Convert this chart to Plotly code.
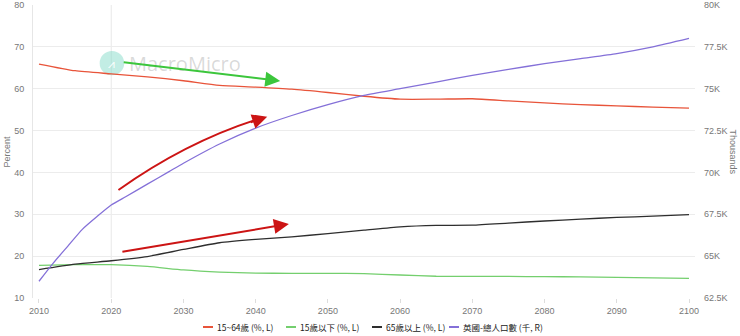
import plotly.graph_objects as go

years = [2010, 2015, 2020, 2025, 2030, 2035, 2040, 2045, 2050, 2055,
         2060, 2065, 2070, 2075, 2080, 2085, 2090, 2095, 2100]
age_15_64 = [65.9, 64.3, 63.55, 62.85, 61.9, 60.8, 60.4, 59.9, 59.1, 58.2,
             57.5, 57.5, 57.6, 57.1, 56.6, 56.2, 55.9, 55.6, 55.35]
age_under_15 = [17.8, 17.95, 17.95, 17.55, 16.7, 16.2, 15.95, 15.9, 15.9, 15.8,
                15.5, 15.2, 15.15, 15.15, 15.1, 15.05, 14.95, 14.8, 14.7]
age_65_plus = [16.8, 18.1, 18.9, 19.9, 21.6, 23.2, 24.0, 24.6, 25.4, 26.2,
               27.0, 27.35, 27.4, 27.9, 28.4, 28.85, 29.25, 29.55, 29.9]

pop_years = [2010, 2012, 2014, 2016, 2018, 2020, 2022, 2025, 2028, 2030, 2035, 2040,
             2045, 2050, 2055, 2060, 2065, 2070, 2075, 2080, 2085, 2090, 2095, 2100]
population_k = [63.5, 64.6, 65.6, 66.6, 67.35, 68.05, 68.55, 69.3, 70.05, 70.55, 71.7, 72.65,
                73.4, 74.05, 74.6, 75.0, 75.4, 75.8, 76.15, 76.5, 76.8, 77.1, 77.5, 78.0]

names = ["15~64歲 (%, L)", "15歲以下 (%, L)", "65歲以上 (%, L)", "英國-總人口數 (千, R)"]
colors = ["#e8543a", "#74cf6e", "#2e2e2e", "#8470d8"]

left_ticks = [10, 20, 30, 40, 50, 60, 70, 80]
right_ticks = [62.5, 65, 67.5, 70, 72.5, 75, 77.5, 80]
right_labels = ["62.5K", "65K", "67.5K", "70K", "72.5K", "75K", "77.5K", "80K"]
x_ticks = [2010, 2020, 2030, 2040, 2050, 2060, 2070, 2080, 2090, 2100]

# layout geometry (pixels)
W, H = 740, 336
ML, MR, MT, MB = 33, 45, 5, 38
PW = W - ML - MR
PH = H - MT - MB


def px_x(px):
    return (px - ML) / PW


def px_y(py):
    return (H - MB - py) / PH


fig = go.Figure()
for vals, nm, col in zip([age_15_64, age_under_15, age_65_plus], names[:3], colors[:3]):
    fig.add_trace(go.Scatter(x=years, y=vals, name=nm, mode="lines",
                             line=dict(color=col, width=1.3, shape="spline", smoothing=0.6)))
fig.add_trace(go.Scatter(x=pop_years, y=population_k, name=names[3], mode="lines", yaxis="y2",
                         line=dict(color=colors[3], width=1.3, shape="spline", smoothing=0.6)))

tickfont = dict(family="Liberation Sans, Arial, sans-serif", size=9, color="#777")

annotations = [
    dict(text="Percent", xref="paper", yref="paper", x=px_x(6), y=0.5, showarrow=False,
         textangle=-90, font=dict(family="Liberation Sans, Arial", size=9, color="#777"),
         xanchor="center", yanchor="middle"),
    dict(text="Thousands", xref="paper", yref="paper", x=px_x(733), y=0.5, showarrow=False,
         textangle=90, font=dict(family="Liberation Sans, Arial", size=9, color="#777"),
         xanchor="center", yanchor="middle"),
    dict(text="MacroMicro", xref="x", yref="y", x=2022.2, y=66.1, showarrow=False,
         font=dict(family="Open Sans, sans-serif", size=20, color="rgba(120,120,120,0.28)"),
         xanchor="left", yanchor="middle"),
    dict(text="⩘", xref="x", yref="y", x=2020.1, y=66.1, showarrow=False,
         font=dict(size=12, color="white"), xanchor="center", yanchor="middle"),
    # green arrow
    dict(x=2043.4, y=61.85, xref="x", yref="y", ax=-158, ay=-19, text="", showarrow=True,
         arrowhead=2, arrowsize=1.5, arrowwidth=2, arrowcolor="#3cc63c"),
    # red arrow (lower)
    dict(x=2044.6, y=27.7, xref="x", yref="y", ax=-168, ay=28, text="", showarrow=True,
         arrowhead=2, arrowsize=1.5, arrowwidth=2, arrowcolor="#cc1414"),
    # red arrow head (upper, curved)
    dict(x=2041.6, y=53.3, xref="x", yref="y", ax=-18, ay=6, text="", showarrow=True,
         arrowhead=2, arrowsize=1.5, arrowwidth=2, arrowcolor="#cc1414"),
]

shapes = [
    dict(type="line", xref="x", yref="paper", x0=2020, x1=2020, y0=0, y1=1,
         line=dict(color="#e8e8e8", width=1), layer="below"),
    dict(type="path", xref="x", yref="y", path="M 2021.0,35.8 Q 2030.6,47.6 2041.0,53.1",
         line=dict(color="#cc1414", width=2)),
    dict(type="circle", xref="x", yref="y", x0=2018.4, x1=2021.8, y0=63.2, y1=69.0,
         fillcolor="rgba(120,215,195,0.45)", line=dict(width=0), layer="below"),
]

# compact legend (drawn manually to match the reference spacing)
legend_line_x = [203, 286, 372, 449]
legend_y = 327
for nm, col, lx in zip(names, colors, legend_line_x):
    shapes.append(dict(type="line", xref="paper", yref="paper",
                       x0=px_x(lx), x1=px_x(lx + 10), y0=px_y(legend_y), y1=px_y(legend_y),
                       line=dict(color=col, width=2)))
    annotations.append(dict(text=nm, xref="paper", yref="paper",
                            x=px_x(lx + 12), y=px_y(legend_y), showarrow=False,
                            xanchor="left", yanchor="middle",
                            font=dict(family="Noto Sans CJK TC, sans-serif", size=8.5,
                                      color="#222")))

fig.update_layout(
    width=W, height=H,
    margin=dict(l=ML, r=MR, t=MT, b=MB, autoexpand=False),
    paper_bgcolor="white", plot_bgcolor="white",
    showlegend=False,
    xaxis=dict(range=[2009.17, 2100.83], tickvals=x_ticks, showgrid=False, zeroline=False,
               ticks="outside", ticklen=4, tickcolor="#ddd", tickfont=tickfont,
               showline=False, automargin=False),
    yaxis=dict(range=[10, 80], tickvals=left_ticks, showgrid=True, gridcolor="#ececec",
               zeroline=False, tickfont=tickfont, showline=True, linecolor="#e6e6e6",
               ticks="", ticklabelstandoff=6, automargin=False),
    yaxis2=dict(range=[62.5, 80], tickvals=right_ticks, ticktext=right_labels, overlaying="y",
                side="right", showgrid=False, zeroline=False, tickfont=tickfont,
                ticklabelstandoff=8, automargin=False),
    annotations=annotations,
    shapes=shapes,
)

fig.write_html("out.html")
